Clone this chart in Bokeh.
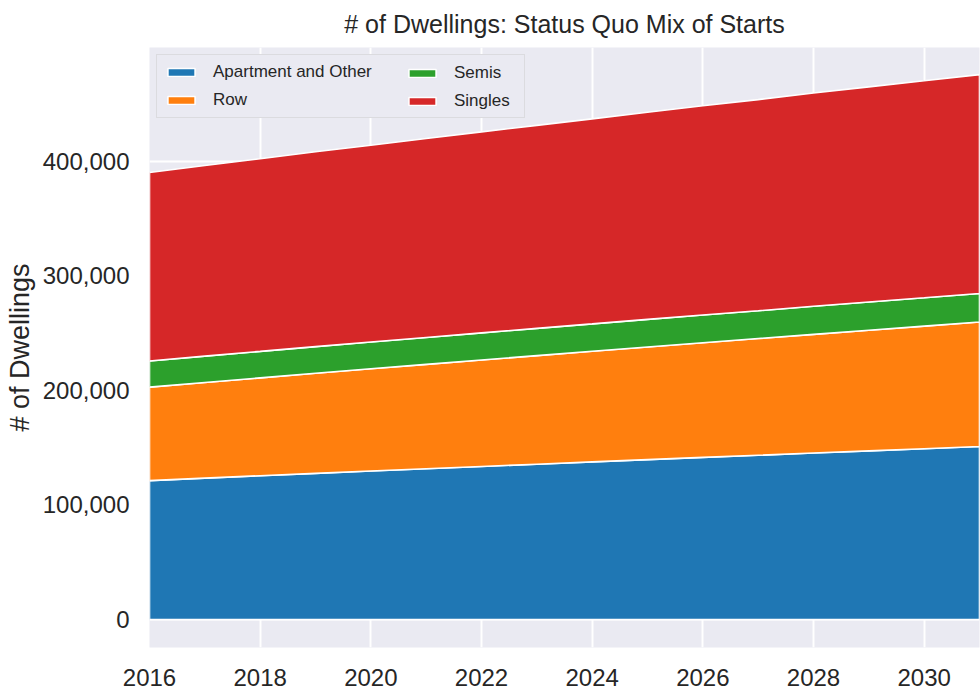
import numpy as np
from bokeh.plotting import figure
from bokeh.models import Range1d, FixedTicker, NumeralTickFormatter, Legend, LegendItem
from bokeh.embed import file_html
from bokeh.resources import INLINE

years = list(range(2016, 2032))
apartment = [121200, 123400, 125500, 127600, 129600, 131600, 133600, 135600,
             137600, 139600, 141500, 143400, 145300, 147200, 149100, 151000]
row = [81700, 83600, 85500, 87400, 89300, 91200, 93000, 94800,
       96600, 98400, 100200, 101900, 103700, 105400, 107100, 108800]
semis = [22800, 23000, 23100, 23300, 23400, 23500, 23700, 23800,
         23900, 24100, 24200, 24300, 24500, 24600, 24700, 24900]
singles = [164600, 166500, 168300, 170100, 171900, 173700, 175500, 177300,
           179100, 180900, 182700, 184400, 186200, 187900, 189500, 191100]

series_names = ["Apartment and Other", "Row", "Semis", "Singles"]
series_values = [apartment, row, semis, singles]
colors = ["#1f77b4", "#ff7f0e", "#2ca02c", "#d62728"]
x_ticks = [2016, 2018, 2020, 2022, 2024, 2026, 2028, 2030]
y_ticks = [0, 100000, 200000, 300000, 400000]
title_text = "# of Dwellings: Status Quo Mix of Starts"
y_label = "# of Dwellings"

FONT = "Liberation Sans"
TXT = "#262626"

p = figure(width=980, height=696, output_backend="svg", toolbar_location=None,
           x_range=Range1d(2016, 2031), y_range=Range1d(-24500, 499500),
           min_border_left=149, min_border_right=1, min_border_top=47,
           min_border_bottom=49, title=title_text)
p.background_fill_color = "#EAEAF2"
p.border_fill_color = "white"
p.outline_line_color = None

p.title.text_font = FONT
p.title.text_font_size = "25px"
p.title.text_font_style = "normal"
p.title.text_color = TXT
p.title.align = "center"
p.title.vertical_align = "top"
p.title.standoff = 16

# stacked areas
stack = np.cumsum(np.array(series_values, dtype=float), axis=0)
bottoms = np.vstack([np.zeros(len(years)), stack[:-1]])
renderers = []
for name, col, bot, top in zip(series_names, colors, bottoms, stack):
    xs = list(years) + list(years[::-1])
    ys = list(top) + list(bot[::-1])
    r = p.patch(xs, ys, fill_color=col, line_color="white", line_width=1.6)
    renderers.append(r)

# grid
p.xgrid.ticker = FixedTicker(ticks=x_ticks)
p.ygrid.ticker = FixedTicker(ticks=y_ticks)
for g in (p.xgrid, p.ygrid):
    g.grid_line_color = "white"
    g.grid_line_width = 2

# axes
for ax in (p.xaxis, p.yaxis):
    ax.axis_line_color = None
    ax.major_tick_line_color = None
    ax.minor_tick_line_color = None
    ax.major_tick_in = 0
    ax.major_tick_out = 0
    ax.minor_tick_in = 0
    ax.minor_tick_out = 0
    ax.major_label_text_font = FONT
    ax.major_label_text_font_size = "24px"
    ax.major_label_text_color = TXT
p.xaxis.ticker = FixedTicker(ticks=x_ticks)
p.yaxis.ticker = FixedTicker(ticks=y_ticks)
p.yaxis.formatter = NumeralTickFormatter(format="0,0")
p.xaxis.major_label_standoff = 21
p.yaxis.major_label_standoff = 20
p.yaxis.axis_label = y_label
p.yaxis.axis_label_text_font = FONT
p.yaxis.axis_label_text_font_size = "27px"
p.yaxis.axis_label_text_font_style = "normal"
p.yaxis.axis_label_text_color = TXT
p.yaxis.axis_label_standoff = 5

items = [LegendItem(label=n, renderers=[r]) for n, r in zip(series_names, renderers)]

def style_legend(leg):
    leg.label_text_font = FONT
    leg.label_text_font_size = "17px"
    leg.label_text_color = TXT
    leg.glyph_width = 34
    leg.glyph_height = 10
    leg.label_standoff = 15
    leg.label_height = 20
    leg.padding = 7
    leg.spacing = 8
    leg.margin = 0

leg1 = Legend(items=items[:2], location=(7, 529))
style_legend(leg1)
leg1.label_width = 304
leg1.background_fill_color = "#EAEAF2"
leg1.background_fill_alpha = 1.0
leg1.border_line_color = "#CCCCCC"
leg1.border_line_width = 1.5

leg2 = Legend(items=items[2:], location=(249, 529))
style_legend(leg2)
leg2.background_fill_alpha = 0
leg2.border_line_alpha = 0

p.add_layout(leg1)
p.add_layout(leg2)

open("out.html", "w").write(file_html(p, INLINE))
